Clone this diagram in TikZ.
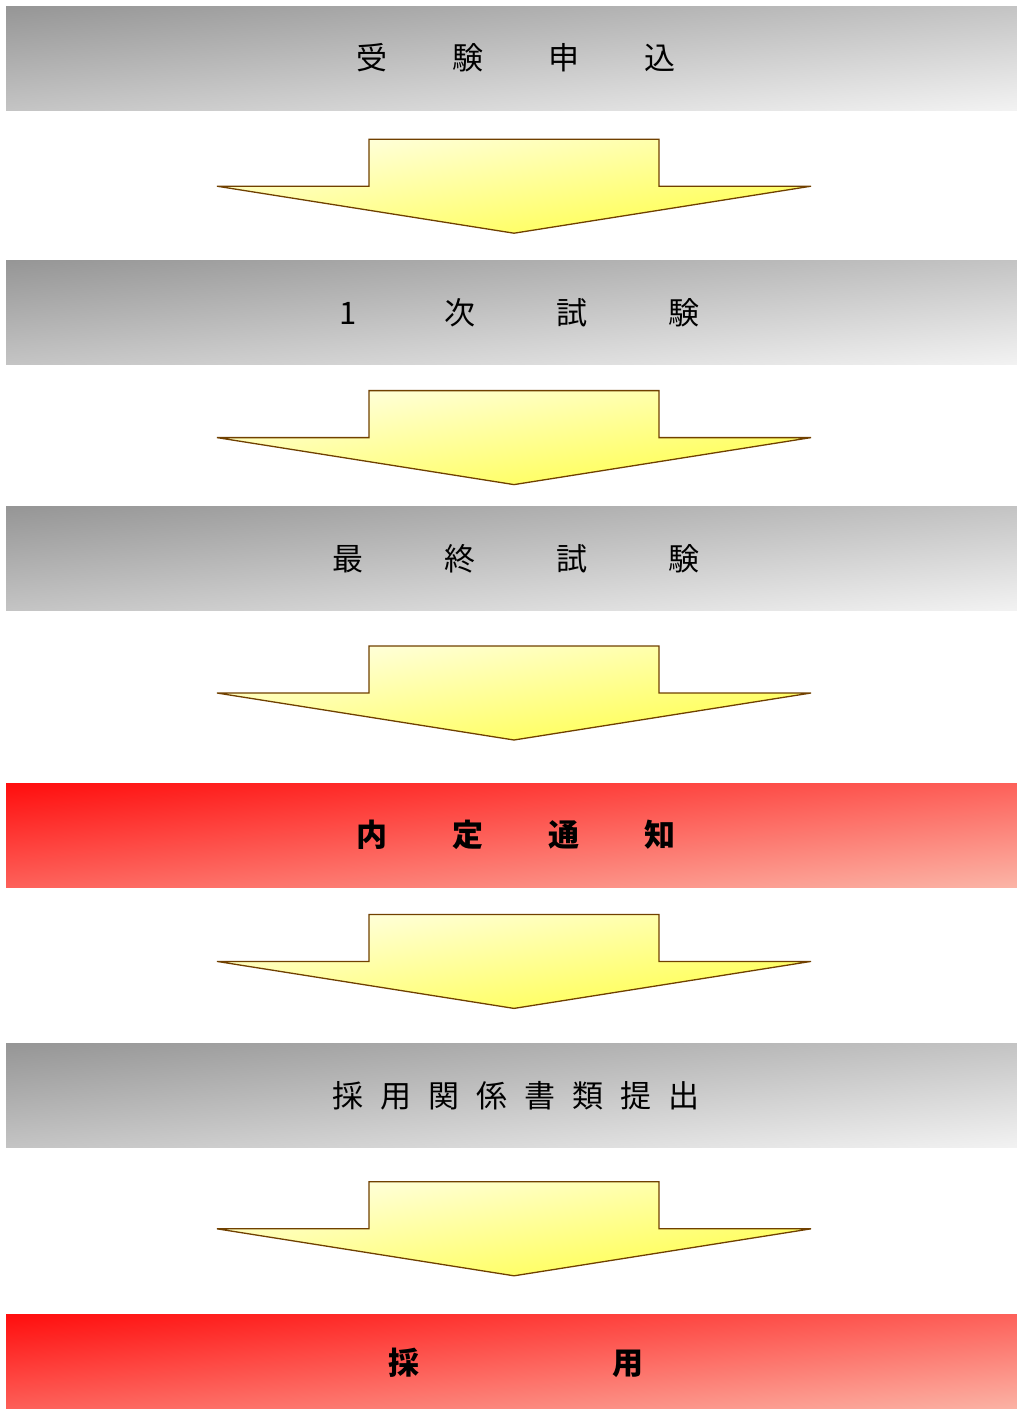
\documentclass[tikz,border=0pt]{standalone}
\usepackage{fontspec}
\newfontfamily\jpfont{Noto Sans CJK JP}
\usetikzlibrary{positioning,calc,backgrounds}

\definecolor{bardark}{RGB}{150,150,150}
\definecolor{barlight}{RGB}{242,242,242}
\definecolor{hitdark}{RGB}{255,14,14}
\definecolor{hitlight}{RGB}{251,180,166}
\definecolor{arrowlight}{RGB}{255,255,238}
\definecolor{arrowyellow}{RGB}{255,255,60}
\definecolor{arrowline}{RGB}{112,64,0}

\pgfdeclareverticalshading{graybar}{100bp}{color(0bp)=(barlight); color(14.6bp)=(barlight);
  color(85.4bp)=(bardark); color(100bp)=(bardark)}
\pgfdeclareverticalshading{redbar}{100bp}{color(0bp)=(hitlight); color(14.6bp)=(hitlight);
  color(85.4bp)=(hitdark); color(100bp)=(hitdark)}
\pgfdeclareverticalshading{yellowarrow}{100bp}{color(0bp)=(arrowyellow); color(14.6bp)=(arrowyellow);
  color(85.4bp)=(arrowlight); color(100bp)=(arrowlight)}

\newlength\charpitch
\newcommand\spreadtext[2]{\setlength\charpitch{#1}\hspace*{9pt}\spreadloop#2\relax}
\def\spreadloop#1{\ifx#1\relax\else\makebox[\charpitch]{#1}\expandafter\spreadloop\fi}

\begin{document}
\begin{tikzpicture} [x=1pt, y=-1pt,
                    bar/.style={minimum width=1011pt, minimum height=104pt, inner sep=0pt,
                                font=\jpfont\fontsize{31}{31}\selectfont},
                    hitbar/.style={bar, font=\jpfont\bfseries\fontsize{31}{31}\selectfont},
                    arrowedge/.style={draw=arrowline, line width=1.3pt, line join=miter}]

\useasboundingbox (0,0) rectangle (1017,1409);

\node[bar]    (1) at (511.5,58) {\spreadtext{96pt}{受験申込}};
\node[bar]    (2) [below=150pt of 1] {\spreadtext{112pt}{1次試験}};
\node[bar]    (3) [below=142pt of 2] {\spreadtext{112pt}{最終試験}};
\node[hitbar] (4) [below=172pt of 3] {\spreadtext{96pt}{内定通知}};
\node[bar]    (5) [below=156pt of 4] {\spreadtext{48pt}{採用関係書類提出}};
\node[hitbar, minimum height=97pt] (6) [below=166pt of 5] {\spreadtext{224pt}{採用}};

% diagonal shading of the bars, drawn in a square and stretched
\begin{scope}[on background layer]
\foreach \n/\s/\h in {1/graybar/104, 2/graybar/104, 3/graybar/104, 4/redbar/104, 5/graybar/104, 6/redbar/97}
  \shade[shading=\s, shading angle=45, transform canvas={shift={(\n.center)}, xscale=1011/\h}]
    (-\h/2,-\h/2) rectangle (\h/2,\h/2);
\end{scope}

% block arrows between the steps
\foreach \a/\b/\d in {1/2/1, 2/3/2, 3/4/-4, 4/5/-4, 5/6/-2} {
  \coordinate (m\a) at ($(\a.south)!0.5!(\b.north)+(2.5,\d)$);
  \shade[shading=yellowarrow, shading angle=45, transform canvas={shift={(m\a)}, xscale=6.3191}, x=0.15825pt]
    (-145,-47) -- (145,-47) -- (145,0) -- (297,0) -- (0,47) -- (-297,0) -- (-145,0) -- cycle;
  \draw[arrowedge] (m\a) ++(-145,-47) -- ++(290,0) -- ++(0,47)
    -- ++(152,0) -- ++(-297,47) -- ++(-297,-47) -- ++(152,0) -- cycle;
}
\end{tikzpicture}
\end{document}
